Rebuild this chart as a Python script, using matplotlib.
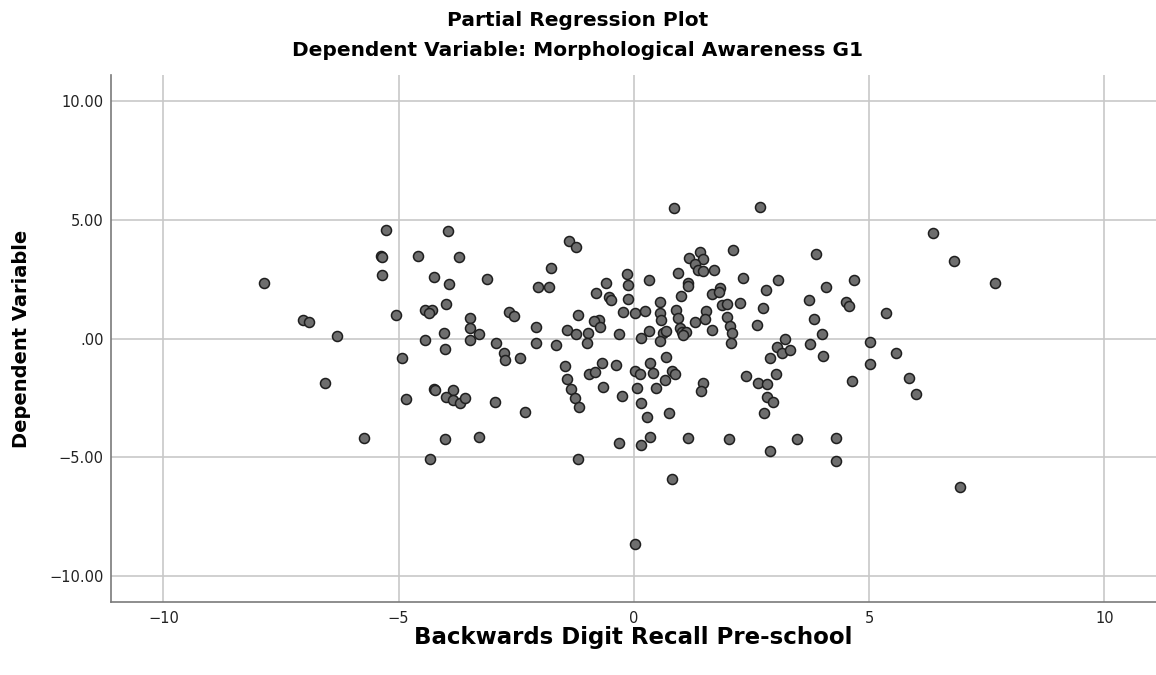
import matplotlib
matplotlib.use("Agg")
import matplotlib.pyplot as plt
from matplotlib.ticker import FuncFormatter

# partial residuals
x_resid = [
    -5.27, -3.96, -5.38, -5.35, -4.58, -3.71, -5.36, -4.24, -3.93, -3.13,
    -7.87, -4.00, -5.05, -4.44, -4.29, -4.35, -3.49, -7.04, -6.91, -3.49,
    -3.30, -4.03, -6.30, -4.44, -3.49, -2.92,
    -4.02, -2.77, -2.73, -4.93, -6.56, -4.25, -4.22, -3.85, -3.99, -3.85,
    -3.69, -3.59, -4.85, -2.96, -5.73, -4.01, -3.30, -4.34,
    0.86, 2.69, -1.37, -1.22, -1.76, -2.03, -1.80, -0.14, -0.13, -0.59,
    -0.81, -0.52, -0.48, -0.12, 0.32, 0.94, 1.18, 1.41, 1.46, 1.31,
    1.36, 1.46, 1.70, 2.10, 2.33, 1.15, 1.15, 1.00, 1.67, 1.83,
    1.80, 0.56, 0.56, 0.58, 0.89, 0.93, 1.87, 1.99, 2.25, 1.53,
    1.51, 1.29, 1.99, 2.04, 2.09, 2.07, 2.61, 2.75, 1.66, 0.98,
    1.02, 1.10, 1.05, 0.62, 0.68, 0.56, 0.32, 0.15, 0.02, 0.23,
    -0.24, -0.31, -0.74, -0.84, -0.73, -1.18, -1.42, -1.23, -0.98, -0.99,
    -2.09, -2.65, -2.55, -2.09, -1.65,
    6.36, 6.80, 7.67, 3.87, 3.06, 2.80, 4.68, 4.08, 3.73, 4.52,
    4.57, 3.83, 5.35, 3.99, 3.21, 3.04, 3.74, 5.03,
    3.14, 3.31, 2.90, 4.02, 5.57, 5.01, 5.85, 6.00, 4.63, 3.02,
    2.64, 2.84, 2.83, 2.96, 2.76, 3.47, 4.30, 2.90, 4.29, 6.94,
    -2.41, -1.46, -0.96, -0.82, -0.68, -0.37, -1.43, -1.33, -1.26, -1.16,
    -0.66, -0.25, 0.02, 0.14, 0.34, 0.40, 0.69, 0.82, 0.88, 0.67,
    0.47, 0.06, 0.15, 0.28, 0.75, 1.46, 1.42, 2.38, -2.31, -0.31,
    0.16, 0.35, 1.15, 2.02, -1.19, 0.81, 0.03,
]
y_resid = [
    4.56, 4.53, 3.46, 3.42, 3.46, 3.43, 2.67, 2.58, 2.28, 2.52,
    2.35, 1.45, 0.99, 1.20, 1.20, 1.09, 0.88, 0.78, 0.68, 0.45,
    0.18, 0.24, 0.09, -0.05, -0.05, -0.18,
    -0.44, -0.62, -0.91, -0.83, -1.86, -2.14, -2.17, -2.17, -2.45, -2.59,
    -2.73, -2.52, -2.53, -2.67, -4.19, -4.22, -4.16, -5.09,
    5.48, 5.55, 4.12, 3.87, 2.96, 2.18, 2.17, 2.73, 2.25, 2.32,
    1.90, 1.76, 1.61, 1.65, 2.45, 2.75, 3.39, 3.65, 3.33, 3.12,
    2.88, 2.85, 2.88, 3.73, 2.53, 2.32, 2.22, 1.79, 1.87, 2.11,
    1.97, 1.52, 1.09, 0.79, 1.20, 0.88, 1.41, 1.45, 1.48, 1.17,
    0.81, 0.68, 0.89, 0.54, 0.22, -0.18, 0.57, 1.30, 0.37, 0.43,
    0.29, 0.26, 0.15, 0.22, 0.32, -0.09, 0.32, 0.01, 1.07, 1.15,
    1.12, 0.20, 0.77, 0.75, 0.47, 0.99, 0.37, 0.20, 0.23, -0.20,
    0.47, 1.13, 0.96, -0.20, -0.27,
    4.43, 3.28, 2.32, 3.56, 2.48, 2.04, 2.48, 2.18, 1.61, 1.55,
    1.36, 0.81, 1.06, 0.20, -0.02, -0.37, -0.25, -0.13,
    -0.60, -0.48, -0.82, -0.72, -0.61, -1.09, -1.65, -2.32, -1.78, -1.49,
    -1.86, -1.92, -2.48, -2.66, -3.12, -4.23, -4.18, -4.72, -5.17, -6.25,
    -0.83, -1.16, -1.48, -1.40, -1.04, -1.12, -1.72, -2.13, -2.52, -2.90,
    -2.03, -2.41, -1.37, -1.51, -1.04, -1.47, -0.78, -1.37, -1.51, -1.75,
    -2.10, -2.10, -2.70, -3.31, -3.15, -1.89, -2.21, -1.59, -3.11, -4.41,
    -4.47, -4.13, -4.18, -4.22, -5.06, -5.90, -8.65,
]

x_ticks = [-10, -5, 0, 5, 10]
y_ticks = [-10, -5, 0, 5, 10]

title_main = "Partial Regression Plot"
title_sub = "Dependent Variable: Morphological Awareness G1"
x_label = "Backwards Digit Recall Pre-school"
y_label = "Dependent Variable"


def y_fmt(v, _pos):
    s = f"{abs(v):.2f}"
    if s.startswith("0"):
        s = s[1:]
    return ("\u2212" if v < 0 else "") + s


def x_fmt(v, _pos):
    return ("\u2212" if v < 0 else "") + f"{abs(v):.0f}"


plt.rcParams["font.family"] = ["DejaVu Sans"]

fig = plt.figure(figsize=(11.56, 6.75), dpi=100)
ax = fig.add_axes([0.0958, 0.1077, 0.9042, 0.7812])

ax.scatter(x_resid, y_resid, s=52, c="#6e6e6e", edgecolors="#1e1e1e",
           linewidths=1.1, zorder=3)

ax.set_xlim(-11.12, 11.1)
ax.set_ylim(-11.1, 11.09)
ax.set_xticks(x_ticks)
ax.set_yticks(y_ticks)
ax.xaxis.set_major_formatter(FuncFormatter(x_fmt))
ax.yaxis.set_major_formatter(FuncFormatter(y_fmt))
ax.tick_params(length=0, labelsize=10.5, colors="#222222")
ax.tick_params(axis="y", pad=5)
ax.tick_params(axis="x", pad=6.5)
ax.grid(True, color="#c8c8c8", linewidth=1.2, zorder=0)
ax.set_axisbelow(True)

for side in ("top", "right"):
    ax.spines[side].set_visible(False)
for side in ("left", "bottom"):
    ax.spines[side].set_color("#7a7a7a")
    ax.spines[side].set_linewidth(1.2)

ax.set_xlabel(x_label, fontsize=16.5, fontweight="bold", labelpad=0)
ax.set_ylabel(y_label, fontsize=14, fontweight="bold", labelpad=13)

fig.text(0.5, 1 - 20 / 675, title_main, ha="center", va="center",
         fontsize=14.5, fontweight="bold")
fig.text(0.5, 1 - 50 / 675, title_sub, ha="center", va="center",
         fontsize=14.5, fontweight="bold")

fig.savefig("out.png", dpi=100)
